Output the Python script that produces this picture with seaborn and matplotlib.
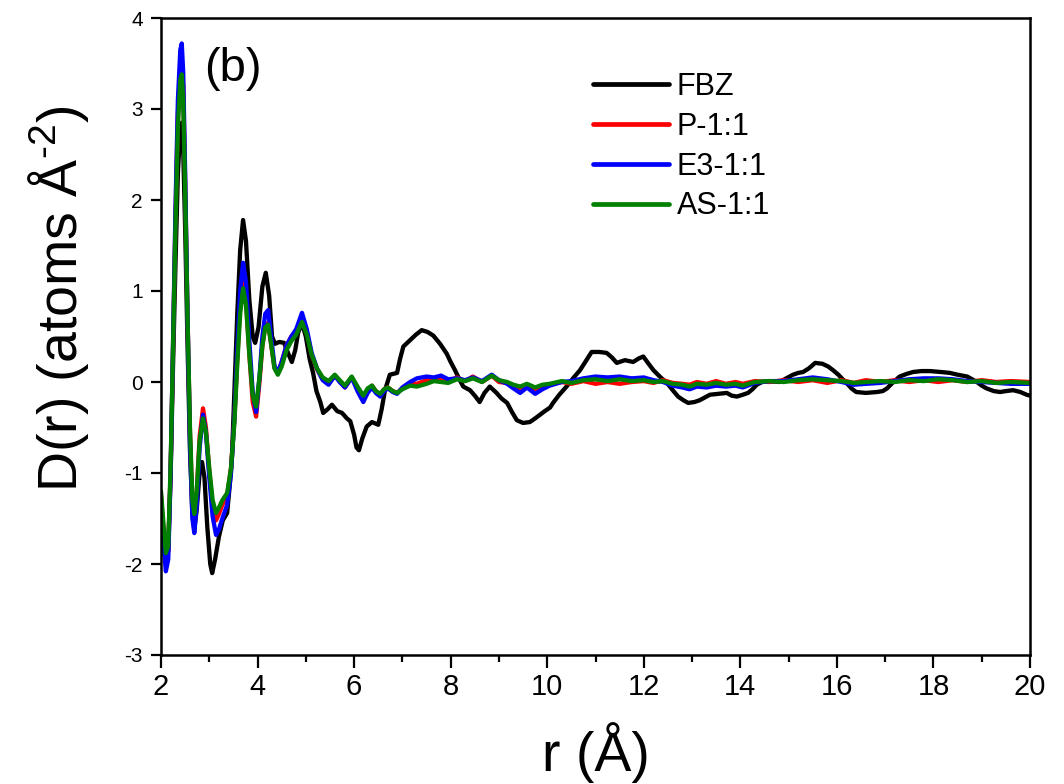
import pandas as pd
import seaborn as sns
import matplotlib.pyplot as plt
from matplotlib.ticker import MultipleLocator

# r grid shared by the three blend samples
r_blend = [2.00, 2.05, 2.10, 2.15, 2.20, 2.25, 2.30, 2.35, 2.40, 2.43, 2.46, 2.50,
           2.55, 2.60, 2.65, 2.69, 2.74, 2.80, 2.87, 2.93, 3.00, 3.07, 3.14, 3.20,
           3.27, 3.37, 3.45, 3.52, 3.58, 3.64, 3.70, 3.76, 3.83, 3.90, 3.97, 4.04,
           4.10, 4.16, 4.22, 4.28, 4.35, 4.42, 4.50, 4.60, 4.70, 4.80, 4.92, 5.02,
           5.12, 5.23, 5.35, 5.47, 5.60, 5.70, 5.81, 5.95, 6.07, 6.19, 6.28, 6.37,
           6.45, 6.54, 6.62, 6.70, 6.80, 6.89, 7.00, 7.16, 7.30, 7.50, 7.65, 7.80,
           7.95, 8.13, 8.30, 8.46, 8.65, 8.85, 9.00, 9.17, 9.30, 9.44, 9.58, 9.75,
           9.90, 10.05, 10.30, 10.50, 10.75, 11.00, 11.25, 11.50, 11.75, 12.00, 12.20,
           12.40, 12.60, 12.80, 12.95, 13.10, 13.30, 13.50, 13.70, 13.90, 14.05, 14.30,
           14.60, 14.90, 15.20, 15.50, 15.80, 16.10, 16.35, 16.60, 16.90, 17.20, 17.50,
           17.80, 18.10, 18.40, 18.70, 19.00, 19.30, 19.60, 20.00]

d_p = [-1.25, -1.62, -1.95, -1.85, -0.95, 0.40, 1.80, 2.95, 3.48, 3.55, 3.25, 2.20,
       0.70, -0.55, -1.38, -1.52, -1.22, -0.60, -0.29, -0.50, -0.98, -1.38, -1.52, -1.45,
       -1.35, -1.25, -0.95, -0.40, 0.25, 0.85, 1.12, 0.92, 0.30, -0.22, -0.38, 0.00,
       0.40, 0.62, 0.65, 0.42, 0.16, 0.10, 0.22, 0.40, 0.50, 0.56, 0.70, 0.55,
       0.30, 0.14, 0.03, -0.02, 0.07, 0.01, -0.06, 0.05, -0.07, -0.18, -0.09, -0.04,
       -0.10, -0.14, -0.08, -0.06, -0.10, -0.12, -0.07, -0.02, -0.02, 0.02, 0.04, 0.03,
       0.01, 0.05, 0.01, 0.06, 0.00, 0.07, 0.00, -0.01, -0.04, -0.08, -0.03, -0.08,
       -0.04, -0.03, 0.00, -0.02, 0.01, -0.02, 0.00, -0.02, 0.00, 0.01, -0.01,
       0.02, -0.01, -0.02, -0.03, 0.00, -0.02, 0.01, -0.02, 0.00, -0.02, 0.01,
       0.00, 0.02, 0.00, 0.02, -0.01, 0.02, -0.01, 0.02, 0.00, 0.02, 0.00,
       0.02, 0.00, 0.02, 0.00, 0.02, 0.00, 0.01, 0.00]

d_e3 = [-1.30, -1.75, -2.08, -1.95, -1.00, 0.45, 1.90, 3.10, 3.65, 3.72, 3.40, 2.30,
        0.70, -0.65, -1.50, -1.66, -1.35, -0.72, -0.36, -0.55, -1.05, -1.48, -1.68, -1.62,
        -1.50, -1.35, -1.00, -0.40, 0.35, 1.00, 1.31, 1.10, 0.45, -0.12, -0.33, 0.05,
        0.50, 0.75, 0.79, 0.50, 0.18, 0.10, 0.22, 0.40, 0.50, 0.58, 0.76, 0.58,
        0.32, 0.15, 0.02, -0.03, 0.07, 0.00, -0.06, 0.05, -0.10, -0.22, -0.12, -0.06,
        -0.12, -0.16, -0.10, -0.07, -0.11, -0.13, -0.06, 0.00, 0.04, 0.06, 0.05, 0.07,
        0.03, 0.04, 0.02, 0.05, 0.01, 0.08, 0.02, -0.02, -0.07, -0.12, -0.06, -0.13,
        -0.08, -0.04, 0.00, 0.01, 0.04, 0.06, 0.05, 0.06, 0.04, 0.05, 0.02,
        0.00, -0.04, -0.06, -0.08, -0.05, -0.06, -0.04, -0.05, -0.04, -0.06, -0.01,
        0.01, 0.01, 0.03, 0.05, 0.03, 0.00, -0.03, -0.02, -0.01, 0.01, 0.03,
        0.04, 0.04, 0.03, 0.01, 0.00, -0.01, -0.02, -0.02]

d_as = [-1.20, -1.55, -1.88, -1.80, -0.90, 0.40, 1.70, 2.80, 3.32, 3.38, 3.10, 2.10,
        0.70, -0.50, -1.30, -1.45, -1.20, -0.65, -0.40, -0.55, -0.95, -1.30, -1.44, -1.38,
        -1.30, -1.22, -0.95, -0.45, 0.20, 0.75, 1.03, 0.85, 0.30, -0.15, -0.27, 0.05,
        0.40, 0.60, 0.63, 0.42, 0.15, 0.08, 0.17, 0.35, 0.45, 0.52, 0.66, 0.52,
        0.30, 0.15, 0.05, 0.01, 0.08, 0.02, -0.04, 0.06, -0.05, -0.15, -0.07, -0.04,
        -0.10, -0.13, -0.08, -0.06, -0.10, -0.12, -0.08, -0.04, -0.05, -0.02, 0.01, 0.00,
        -0.01, 0.03, 0.01, 0.04, 0.00, 0.07, 0.02, 0.00, -0.03, -0.05, -0.02, -0.06,
        -0.03, -0.02, 0.01, -0.01, 0.02, 0.03, 0.01, 0.03, 0.01, 0.02, 0.00,
        0.01, -0.02, -0.03, -0.05, -0.02, -0.03, -0.01, -0.03, -0.02, -0.04, 0.00,
        0.01, 0.00, 0.02, 0.03, 0.02, 0.01, -0.01, 0.00, 0.01, 0.00, 0.02,
        0.01, 0.03, 0.02, 0.00, 0.01, -0.01, 0.00, -0.01]

# pure FBZ has its own r grid
r_fbz = [2.00, 2.05, 2.10, 2.15, 2.20, 2.25, 2.30, 2.35, 2.40, 2.43, 2.46, 2.50,
         2.55, 2.60, 2.65, 2.69, 2.74, 2.80, 2.85, 2.90, 2.96, 3.02, 3.06, 3.12,
         3.20, 3.28, 3.37, 3.43, 3.47, 3.52, 3.58, 3.64, 3.70, 3.76, 3.83, 3.90,
         3.95, 4.02, 4.10, 4.17, 4.24, 4.30, 4.36, 4.45, 4.55, 4.63, 4.71, 4.78,
         4.84, 4.92, 5.00, 5.08, 5.15, 5.22, 5.30, 5.36, 5.45, 5.54, 5.65, 5.75,
         5.85, 5.92, 6.00, 6.05, 6.10, 6.17, 6.26, 6.37, 6.50, 6.57, 6.64, 6.74,
         6.89, 6.95, 7.02, 7.16, 7.28, 7.40, 7.52, 7.64, 7.78, 7.92, 8.00, 8.09,
         8.18, 8.26, 8.40, 8.50, 8.60, 8.70, 8.81, 8.95, 9.05, 9.17, 9.27, 9.37,
         9.50, 9.64, 9.75, 9.85, 9.95, 10.06, 10.12, 10.25, 10.40, 10.55, 10.68, 10.80,
         10.92, 11.08, 11.23, 11.34, 11.44, 11.61, 11.78, 11.90, 11.99, 12.10, 12.20, 12.35,
         12.48, 12.60, 12.71, 12.82, 12.92, 13.05, 13.16, 13.37, 13.55, 13.72, 13.82, 13.93,
         14.05, 14.16, 14.25, 14.34, 14.45, 14.60, 14.82, 14.95, 15.09, 15.20, 15.30, 15.42,
         15.55, 15.70, 15.82, 15.92, 16.03, 16.12, 16.20, 16.30, 16.40, 16.60, 16.83, 16.95,
         17.04, 17.15, 17.30, 17.45, 17.58, 17.75, 17.93, 18.15, 18.34, 18.50, 18.70, 18.80,
         18.90, 19.00, 19.10, 19.25, 19.38, 19.50, 19.65, 19.80, 19.93, 20.00]

d_fbz = [-1.30, -1.70, -1.98, -1.85, -1.00, 0.20, 1.30, 2.30, 2.80, 2.85, 2.55, 1.70,
         0.40, -0.75, -1.45, -1.62, -1.40, -1.00, -0.88, -1.05, -1.60, -2.00, -2.10, -1.95,
         -1.70, -1.52, -1.44, -1.10, -0.82, -0.10, 0.75, 1.45, 1.78, 1.55, 0.90, 0.50,
         0.43, 0.60, 1.05, 1.20, 0.95, 0.50, 0.42, 0.44, 0.43, 0.32, 0.22, 0.35,
         0.54, 0.65, 0.50, 0.25, 0.10, -0.10, -0.22, -0.34, -0.30, -0.25, -0.32, -0.34,
         -0.40, -0.43, -0.58, -0.72, -0.75, -0.62, -0.49, -0.44, -0.47, -0.30, -0.09, 0.08,
         0.10, 0.25, 0.39, 0.46, 0.52, 0.57, 0.55, 0.51, 0.42, 0.31, 0.22, 0.13,
         0.03, -0.05, -0.09, -0.15, -0.22, -0.12, -0.05, -0.12, -0.18, -0.23, -0.33, -0.42,
         -0.45, -0.44, -0.40, -0.36, -0.32, -0.28, -0.23, -0.14, -0.05, 0.05, 0.13, 0.23,
         0.33, 0.33, 0.32, 0.27, 0.21, 0.24, 0.22, 0.26, 0.28, 0.20, 0.13, 0.05,
         -0.01, -0.09, -0.16, -0.20, -0.23, -0.22, -0.20, -0.14, -0.13, -0.12, -0.15, -0.16,
         -0.14, -0.12, -0.08, -0.03, 0.00, 0.01, 0.00, 0.04, 0.08, 0.10, 0.11, 0.15,
         0.21, 0.20, 0.17, 0.13, 0.08, 0.03, -0.01, -0.07, -0.11, -0.12, -0.11, -0.10,
         -0.07, -0.01, 0.06, 0.09, 0.11, 0.12, 0.12, 0.11, 0.10, 0.08, 0.06, 0.03,
         0.00, -0.04, -0.07, -0.10, -0.11, -0.10, -0.09, -0.11, -0.14, -0.15]

samples = ["FBZ", "P-1:1", "E3-1:1", "AS-1:1"]
colors = ["black", "red", "blue", "green"]

df = pd.concat([
    pd.DataFrame({"r": r_fbz, "D": d_fbz, "sample": "FBZ"}),
    pd.DataFrame({"r": r_blend, "D": d_p, "sample": "P-1:1"}),
    pd.DataFrame({"r": r_blend, "D": d_e3, "sample": "E3-1:1"}),
    pd.DataFrame({"r": r_blend, "D": d_as, "sample": "AS-1:1"}),
])

sns.set_style("ticks")
plt.rcParams["font.family"] = ["Liberation Sans", "DejaVu Sans"]
plt.rcParams["mathtext.fontset"] = "custom"
plt.rcParams["mathtext.rm"] = "Liberation Sans"
plt.rcParams["axes.unicode_minus"] = False
for key in ["text.color", "axes.labelcolor", "xtick.color", "ytick.color",
            "axes.edgecolor"]:
    plt.rcParams[key] = "black"

fig = plt.figure(figsize=(10.64, 7.84), dpi=100)
ax = fig.add_axes([161 / 1064, 1 - 655 / 784, 869 / 1064, 637 / 784])

sns.lineplot(data=df, x="r", y="D", hue="sample", hue_order=samples,
             palette=dict(zip(samples, colors)), estimator=None, sort=True,
             linewidth=3.1, ax=ax)

ax.set_xlim(2, 20)
ax.set_ylim(-3, 4)
ax.xaxis.set_major_locator(MultipleLocator(2))
ax.xaxis.set_minor_locator(MultipleLocator(1))
ax.yaxis.set_major_locator(MultipleLocator(1))

for side in ["top", "right", "left", "bottom"]:
    ax.spines[side].set_visible(True)
    ax.spines[side].set_linewidth(1.8)
ax.tick_params(axis="x", which="major", direction="out", length=9, width=1.6,
               labelsize=21, pad=4)
ax.tick_params(axis="x", which="minor", direction="out", length=5, width=1.6)
ax.tick_params(axis="y", which="major", direction="out", length=7, width=1.6,
               labelsize=15, pad=6)

ax.set_xlabel("r (Å)", fontsize=40, labelpad=15)
ax.set_ylabel(r"D(r) (atoms Å$^{\text{-}2}$)", fontsize=40)
ax.yaxis.set_label_coords(-0.08, 0.56)

ax.text(0.05, 0.92, "(b)", transform=ax.transAxes, fontsize=34,
        ha="left", va="center")

handles, labels = ax.get_legend_handles_labels()
leg = ax.legend(handles, labels, loc="upper left", bbox_to_anchor=(0.497, 0.915),
                frameon=False, fontsize=22, handlelength=2.5, handletextpad=0.25,
                labelspacing=0.32, borderpad=0, borderaxespad=0)
for line in leg.get_lines():
    line.set_linewidth(3.4)

fig.savefig("out.png", dpi=100)
